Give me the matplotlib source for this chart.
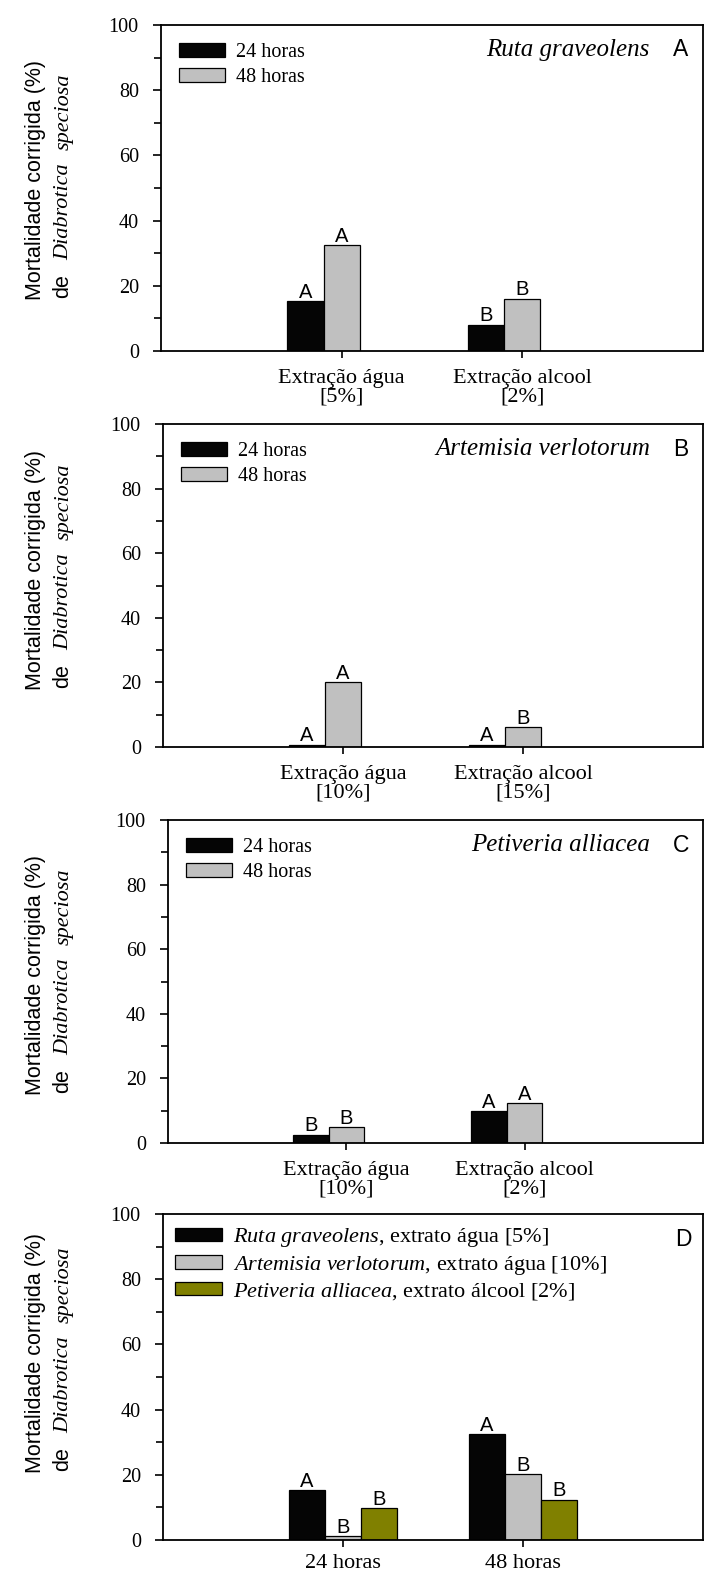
import numpy as np
import matplotlib
matplotlib.use("Agg")
import matplotlib.pyplot as plt

plt.rcParams['font.family'] = ['Liberation Serif', 'DejaVu Serif']
plt.rcParams['mathtext.fontset'] = 'custom'
plt.rcParams['mathtext.it'] = 'Liberation Serif:italic'
plt.rcParams['mathtext.rm'] = 'Liberation Serif'

# --- data ---------------------------------------------------------------
extratos_a = ['Extração água\n[5%]', 'Extração alcool\n[2%]']
ruta_24h = [15.3, 8.1]
ruta_48h = [32.4, 16.0]
letras_ruta_24h = ['A', 'B']
letras_ruta_48h = ['A', 'B']

extratos_b = ['Extração água\n[10%]', 'Extração alcool\n[15%]']
artemisia_24h = [0.7, 0.7]
artemisia_48h = [20.1, 6.1]
letras_artemisia_24h = ['A', 'A']
letras_artemisia_48h = ['A', 'B']

extratos_c = ['Extração água\n[10%]', 'Extração alcool\n[2%]']
petiveria_24h = [2.5, 9.9]
petiveria_48h = [4.8, 12.3]
letras_petiveria_24h = ['B', 'A']
letras_petiveria_48h = ['B', 'A']

tempos = ['24 horas', '48 horas']
ruta_agua_5 = [15.3, 32.5]
artemisia_agua_10 = [1.2, 20.2]
petiveria_alcool_2 = [9.7, 12.3]
letras_ruta_agua = ['A', 'A']
letras_artemisia_agua = ['B', 'B']
letras_petiveria_alcool = ['B', 'B']

especies = ['Ruta graveolens', 'Artemisia verlotorum', 'Petiveria alliacea']
paineis = ['A', 'B', 'C', 'D']

PRETO = '#050505'
CINZA = '#c0c0c0'
OLIVA = '#808000'

W, H = 704, 1575
fig = plt.figure(figsize=(W / 100, H / 100), dpi=100)

# axes boxes in pixels: left, top, bottom
boxes = [(161, 25, 351), (163, 424, 747), (168, 820, 1143), (163, 1214, 1540)]
label_start = [300, 690, 1095, 1473]
RIGHT = 703


def make_axes(box, xpad=8):
    left, top, bottom = box
    ax = fig.add_axes([left / W, 1 - bottom / H, (RIGHT - left) / W, (bottom - top) / H])
    ax.set_xlim(0, 3)
    ax.set_ylim(0, 100)
    ax.set_yticks(np.arange(0, 101, 20))
    ax.set_yticks(np.arange(10, 100, 20), minor=True)
    ax.set_xticks([1, 2])
    ax.tick_params(axis='y', which='major', direction='out', length=6, width=1.2,
                   pad=10, labelsize=14.5)
    ax.tick_params(axis='y', which='minor', direction='out', length=5, width=1.2)
    ax.tick_params(axis='x', direction='out', length=5, width=1.2, pad=xpad, labelsize=16)
    for sp in ax.spines.values():
        sp.set_linewidth(1.3)
    return ax


def letters(ax, xs, vals, labs):
    for x, v, t in zip(xs, vals, labs):
        ax.annotate(t, (x, v), xytext=(0, 2.5), textcoords='offset points',
                    ha='center', va='baseline', family='Liberation Sans', fontsize=14.5)


def corner_text(ax, especie, painel):
    ax.annotate(especie, xy=(1, 1), xycoords='axes fraction', xytext=(-53, -25),
                textcoords='offset pixels', ha='right', va='center',
                fontsize=18, style='italic')
    ax.annotate(painel, xy=(1, 1), xycoords='axes fraction', xytext=(-22, -25),
                textcoords='offset pixels', ha='center', va='center',
                family='Liberation Sans', fontsize=16.5)


def y_label(yb):
    # two-line label: sans first line, "de" + italic species name below
    kw = dict(rotation=90, ha='center', va='bottom')
    fig.text(36 / W, 1 - yb / H, 'Mortalidade corrigida (%)',
             family='Liberation Sans', fontsize=15.5, **kw)
    fig.text(63 / W, 1 - (yb - 2) / H, 'de', family='Liberation Sans', fontsize=15.5, **kw)
    fig.text(64 / W, 1 - (yb - 40) / H, 'Diabrotica', style='italic', fontsize=16, **kw)
    fig.text(64 / W, 1 - (yb - 150) / H, 'speciosa', style='italic', fontsize=16, **kw)


x = np.array([1, 2])
w = 0.2
series = [
    (extratos_a, ruta_24h, ruta_48h, letras_ruta_24h, letras_ruta_48h),
    (extratos_b, artemisia_24h, artemisia_48h, letras_artemisia_24h, letras_artemisia_48h),
    (extratos_c, petiveria_24h, petiveria_48h, letras_petiveria_24h, letras_petiveria_48h),
]

for i, (cats, v24, v48, l24, l48) in enumerate(series):
    ax = make_axes(boxes[i])
    ax.bar(x - w, v24, w, color=PRETO, edgecolor='black', linewidth=0.9, label='24 horas')
    ax.bar(x, v48, w, color=CINZA, edgecolor='black', linewidth=0.9, label='48 horas')
    letters(ax, x - w, v24, l24)
    letters(ax, x, v48, l48)
    ax.set_xticklabels(cats, linespacing=0.95)
    ax.legend(loc='upper left', frameon=False, fontsize=14.5, handlelength=2.3,
              handleheight=0.65, handletextpad=0.5, labelspacing=0.3,
              borderaxespad=0.5, borderpad=0.4)
    corner_text(ax, especies[i], paineis[i])

# panel D - best extract of each plant
ax = make_axes(boxes[3], xpad=5)
ax.bar(x - w, ruta_agua_5, w, color=PRETO, edgecolor='black', linewidth=0.9,
       label='$\\mathit{Ruta\\ graveolens}$, extrato água [5%]')
ax.bar(x, artemisia_agua_10, w, color=CINZA, edgecolor='black', linewidth=0.9,
       label='$\\mathit{Artemisia\\ verlotorum}$, extrato água [10%]')
ax.bar(x + w, petiveria_alcool_2, w, color=OLIVA, edgecolor='black', linewidth=0.9,
       label='$\\mathit{Petiveria\\ alliacea}$, extrato álcool [2%]')
letters(ax, x - w, ruta_agua_5, letras_ruta_agua)
letters(ax, x, artemisia_agua_10, letras_artemisia_agua)
letters(ax, x + w, petiveria_alcool_2, letras_petiveria_alcool)
ax.set_xticklabels(tempos)
ax.legend(loc='upper left', frameon=False, fontsize=16, handlelength=2.1,
          handleheight=0.55, handletextpad=0.5, labelspacing=0.2,
          borderaxespad=0.3, borderpad=0.25)
ax.annotate(paineis[3], xy=(1, 1), xycoords='axes fraction', xytext=(-20, -25),
            textcoords='offset pixels', ha='center', va='center',
            family='Liberation Sans', fontsize=16.5)

for yb in label_start:
    y_label(yb)

fig.savefig('out.png', dpi=100)
